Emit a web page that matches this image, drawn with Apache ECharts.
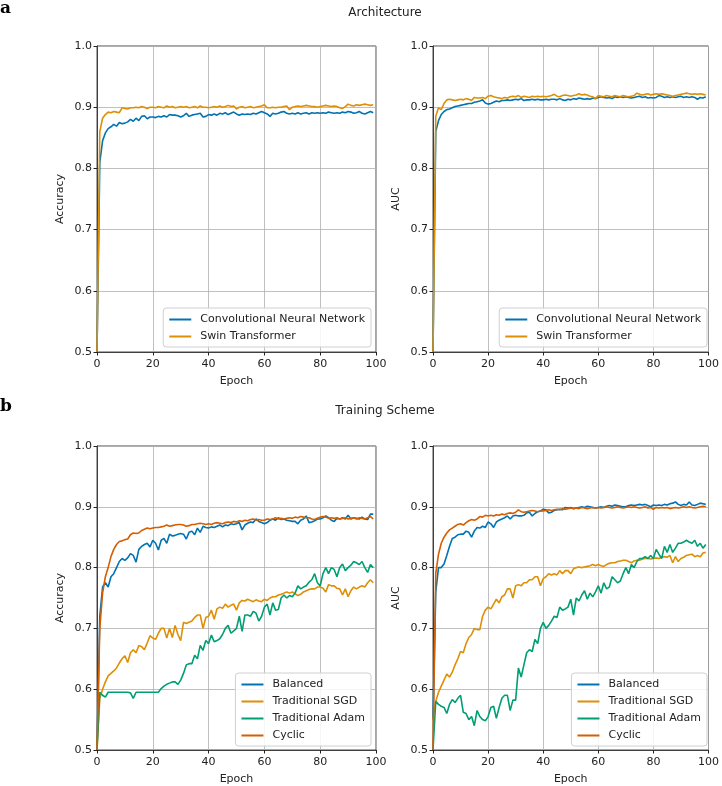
<!DOCTYPE html>
<html>
<head>
<meta charset="utf-8">
<title>Architecture / Training Scheme</title>
<script src="https://cdn.jsdelivr.net/npm/echarts@6/dist/echarts.min.js"></script>
<style>
  html, body { margin: 0; padding: 0; background: #fff; }
  #main { width: 722px; height: 786px; }
</style>
</head>
<body>
<div id="main"></div>
<script>
// values per epoch (0..99)
var cnnAcc = [
  0.50, 0.81, 0.845, 0.858, 0.865, 0.868, 0.872, 0.869, 0.875, 0.873,
  0.874, 0.876, 0.880, 0.877, 0.882, 0.878, 0.885, 0.886, 0.881, 0.884,
  0.884, 0.883, 0.885, 0.884, 0.886, 0.884, 0.888, 0.887, 0.887, 0.886,
  0.884, 0.886, 0.890, 0.885, 0.887, 0.888, 0.889, 0.890, 0.884, 0.885,
  0.888, 0.887, 0.889, 0.887, 0.890, 0.889, 0.891, 0.888, 0.890, 0.892,
  0.889, 0.887, 0.889, 0.888, 0.889, 0.888, 0.890, 0.889, 0.891, 0.893,
  0.891, 0.889, 0.885, 0.890, 0.889, 0.890, 0.892, 0.893, 0.890, 0.889,
  0.890, 0.889, 0.891, 0.889, 0.890, 0.891, 0.889, 0.891, 0.890, 0.891,
  0.890, 0.891, 0.890, 0.892, 0.891, 0.890, 0.891, 0.890, 0.892, 0.891,
  0.893, 0.892, 0.890, 0.891, 0.893, 0.890, 0.889, 0.891, 0.893, 0.891
];
var swinAcc = [
  0.50, 0.86, 0.882, 0.888, 0.892, 0.891, 0.893, 0.892, 0.891, 0.899,
  0.898, 0.897, 0.899, 0.899, 0.900, 0.899, 0.901, 0.900, 0.898, 0.900,
  0.900, 0.899, 0.901, 0.900, 0.899, 0.902, 0.900, 0.901, 0.899, 0.900,
  0.901, 0.900, 0.901, 0.899, 0.900, 0.901, 0.899, 0.902, 0.900, 0.900,
  0.899, 0.900, 0.901, 0.900, 0.902, 0.900, 0.901, 0.903, 0.901, 0.902,
  0.897, 0.900, 0.901, 0.899, 0.900, 0.901, 0.899, 0.900, 0.901, 0.902,
  0.904, 0.899, 0.899, 0.900, 0.899, 0.900, 0.900, 0.901, 0.902, 0.896,
  0.900, 0.901, 0.902, 0.901, 0.902, 0.903, 0.902, 0.901, 0.901, 0.900,
  0.901, 0.902, 0.903, 0.902, 0.901, 0.902, 0.901, 0.899, 0.898, 0.901,
  0.905, 0.903, 0.902, 0.904, 0.903, 0.904, 0.905, 0.904, 0.903, 0.904
];
var cnnAuc = [
  0.50, 0.86, 0.878, 0.888, 0.893, 0.896, 0.897, 0.899, 0.901, 0.902,
  0.903, 0.904, 0.905, 0.906, 0.906, 0.908, 0.909, 0.910, 0.912, 0.907,
  0.905, 0.906, 0.908, 0.910, 0.909, 0.911, 0.911, 0.912, 0.911, 0.912,
  0.913, 0.912, 0.914, 0.911, 0.912, 0.912, 0.913, 0.912, 0.913, 0.912,
  0.912, 0.913, 0.912, 0.913, 0.913, 0.912, 0.914, 0.912, 0.911, 0.913,
  0.912, 0.914, 0.913, 0.915, 0.914, 0.913, 0.914, 0.913, 0.915, 0.914,
  0.916, 0.917, 0.916, 0.915, 0.916, 0.914, 0.917, 0.916, 0.917, 0.916,
  0.917, 0.916, 0.915, 0.916, 0.917, 0.918, 0.916, 0.917, 0.915, 0.916,
  0.915, 0.916, 0.919, 0.918, 0.916, 0.917, 0.916, 0.917, 0.916, 0.917,
  0.918, 0.916, 0.917, 0.916, 0.917, 0.916, 0.913, 0.916, 0.915, 0.917
];
var swinAuc = [
  0.50, 0.885, 0.899, 0.896, 0.906, 0.912, 0.913, 0.912, 0.911, 0.912,
  0.913, 0.912, 0.914, 0.913, 0.911, 0.916, 0.915, 0.915, 0.916, 0.914,
  0.918, 0.919, 0.917, 0.916, 0.915, 0.914, 0.916, 0.915, 0.917, 0.918,
  0.917, 0.919, 0.916, 0.918, 0.917, 0.916, 0.918, 0.917, 0.918, 0.917,
  0.918, 0.917, 0.918, 0.919, 0.921, 0.918, 0.917, 0.919, 0.920, 0.919,
  0.918, 0.919, 0.920, 0.922, 0.920, 0.921, 0.920, 0.918, 0.917, 0.914,
  0.919, 0.918, 0.917, 0.919, 0.918, 0.917, 0.919, 0.918, 0.917, 0.919,
  0.918, 0.917, 0.918, 0.919, 0.923, 0.921, 0.920, 0.921, 0.922, 0.920,
  0.921, 0.922, 0.921, 0.922, 0.921, 0.920, 0.919, 0.918, 0.919, 0.920,
  0.921, 0.922, 0.923, 0.922, 0.921, 0.922, 0.921, 0.922, 0.921, 0.920
];

var balAcc = [
  0.50, 0.72, 0.768, 0.775, 0.768, 0.785, 0.790, 0.800, 0.810, 0.815,
  0.812, 0.816, 0.823, 0.820, 0.809, 0.830, 0.835, 0.838, 0.840, 0.834,
  0.845, 0.840, 0.829, 0.845, 0.848, 0.840, 0.855, 0.852, 0.853, 0.855,
  0.856, 0.855, 0.847, 0.858, 0.860, 0.854, 0.865, 0.858, 0.868, 0.866,
  0.865, 0.867, 0.866, 0.868, 0.870, 0.867, 0.870, 0.869, 0.872, 0.871,
  0.872, 0.874, 0.862, 0.870, 0.873, 0.875, 0.874, 0.880, 0.876, 0.874,
  0.872, 0.874, 0.878, 0.880, 0.878, 0.882, 0.879, 0.880, 0.878, 0.877,
  0.876, 0.876, 0.872, 0.878, 0.880, 0.885, 0.874, 0.875, 0.877, 0.880,
  0.880, 0.882, 0.885, 0.882, 0.878, 0.876, 0.881, 0.880, 0.882, 0.880,
  0.886, 0.880, 0.882, 0.881, 0.880, 0.883, 0.880, 0.879, 0.888, 0.888
];
var sgdAcc = [
  0.50, 0.585, 0.600, 0.612, 0.622, 0.626, 0.630, 0.635, 0.643, 0.650,
  0.655, 0.644, 0.660, 0.665, 0.660, 0.672, 0.670, 0.665, 0.676, 0.688,
  0.684, 0.682, 0.692, 0.700, 0.700, 0.684, 0.700, 0.685, 0.705, 0.690,
  0.680, 0.710, 0.708, 0.710, 0.712, 0.718, 0.722, 0.722, 0.700, 0.718,
  0.720, 0.730, 0.715, 0.732, 0.735, 0.733, 0.740, 0.735, 0.738, 0.740,
  0.730, 0.742, 0.746, 0.745, 0.748, 0.746, 0.744, 0.747, 0.745, 0.744,
  0.748, 0.746, 0.750, 0.752, 0.752, 0.755, 0.756, 0.758, 0.760, 0.758,
  0.760, 0.757, 0.754, 0.756, 0.760, 0.762, 0.764, 0.765, 0.765, 0.768,
  0.768, 0.766, 0.760, 0.772, 0.770, 0.770, 0.766, 0.765, 0.755, 0.765,
  0.752, 0.762, 0.768, 0.765, 0.768, 0.770, 0.768, 0.775, 0.780, 0.775
];
var adamAcc = [
  0.50, 0.595, 0.590, 0.587, 0.595, 0.595, 0.595, 0.595, 0.595, 0.595,
  0.595, 0.595, 0.594, 0.585, 0.595, 0.595, 0.595, 0.595, 0.595, 0.595,
  0.595, 0.595, 0.595, 0.601, 0.605, 0.608, 0.610, 0.612, 0.612, 0.608,
  0.615, 0.626, 0.640, 0.642, 0.642, 0.656, 0.650, 0.672, 0.664, 0.680,
  0.675, 0.689, 0.678, 0.680, 0.683, 0.690, 0.700, 0.705, 0.692, 0.696,
  0.700, 0.720, 0.695, 0.722, 0.722, 0.720, 0.728, 0.725, 0.712, 0.720,
  0.735, 0.740, 0.722, 0.742, 0.730, 0.731, 0.750, 0.755, 0.750, 0.754,
  0.752, 0.758, 0.770, 0.765, 0.768, 0.770, 0.776, 0.780, 0.790, 0.775,
  0.770, 0.790, 0.800, 0.790, 0.800, 0.797, 0.785, 0.800, 0.806, 0.795,
  0.800, 0.804, 0.810, 0.808, 0.805, 0.810, 0.800, 0.792, 0.805, 0.800
];
var cycAcc = [
  0.50, 0.70, 0.758, 0.785, 0.800, 0.818, 0.830, 0.838, 0.843, 0.844,
  0.846, 0.847, 0.854, 0.857, 0.856, 0.857, 0.861, 0.863, 0.865, 0.864,
  0.865, 0.866, 0.866, 0.867, 0.868, 0.870, 0.868, 0.869, 0.870, 0.871,
  0.871, 0.870, 0.868, 0.869, 0.871, 0.871, 0.872, 0.873, 0.872, 0.871,
  0.872, 0.871, 0.873, 0.874, 0.873, 0.872, 0.874, 0.875, 0.874, 0.876,
  0.875, 0.877, 0.876, 0.878, 0.877, 0.879, 0.880, 0.878, 0.879, 0.878,
  0.878, 0.880, 0.879, 0.880, 0.882, 0.880, 0.881, 0.880, 0.881, 0.882,
  0.881, 0.883, 0.882, 0.884, 0.883, 0.882, 0.882, 0.880, 0.879, 0.881,
  0.883, 0.884, 0.883, 0.881, 0.882, 0.881, 0.882, 0.880, 0.881, 0.882,
  0.880, 0.881, 0.882, 0.880, 0.882, 0.881, 0.880, 0.882, 0.884, 0.880
];

var balAuc = [
  0.55, 0.76, 0.800, 0.800, 0.806, 0.820, 0.835, 0.848, 0.850, 0.854,
  0.855, 0.855, 0.860, 0.858, 0.850, 0.860, 0.866, 0.865, 0.868, 0.866,
  0.875, 0.872, 0.866, 0.875, 0.878, 0.880, 0.882, 0.885, 0.880, 0.885,
  0.886, 0.885, 0.885, 0.886, 0.890, 0.891, 0.885, 0.889, 0.892, 0.893,
  0.896, 0.895, 0.890, 0.891, 0.894, 0.895, 0.896, 0.895, 0.899, 0.898,
  0.899, 0.897, 0.898, 0.899, 0.900, 0.899, 0.901, 0.900, 0.899, 0.898,
  0.899, 0.900, 0.899, 0.901, 0.902, 0.901, 0.903, 0.902, 0.901, 0.900,
  0.900, 0.902, 0.903, 0.902, 0.903, 0.904, 0.903, 0.904, 0.902, 0.900,
  0.903, 0.902, 0.903, 0.902, 0.904, 0.903, 0.905, 0.906, 0.908, 0.904,
  0.902, 0.904, 0.903, 0.908, 0.903, 0.902, 0.904, 0.906, 0.905, 0.904
];
var sgdAuc = [
  0.55, 0.580, 0.595, 0.605, 0.615, 0.625, 0.620, 0.628, 0.640, 0.650,
  0.662, 0.660, 0.675, 0.685, 0.690, 0.700, 0.698, 0.698, 0.720, 0.730,
  0.735, 0.732, 0.740, 0.748, 0.742, 0.752, 0.755, 0.765, 0.765, 0.750,
  0.770, 0.772, 0.770, 0.775, 0.775, 0.780, 0.780, 0.785, 0.785, 0.770,
  0.782, 0.785, 0.790, 0.788, 0.790, 0.788, 0.795, 0.790, 0.795, 0.795,
  0.790, 0.798, 0.800, 0.801, 0.800, 0.801, 0.802, 0.803, 0.805, 0.803,
  0.805, 0.803, 0.802, 0.805, 0.807, 0.808, 0.808, 0.810, 0.811, 0.812,
  0.812, 0.810, 0.808, 0.811, 0.812, 0.812, 0.814, 0.815, 0.815, 0.814,
  0.815, 0.816, 0.815, 0.817, 0.818, 0.817, 0.820, 0.808, 0.818, 0.810,
  0.815, 0.817, 0.820, 0.821, 0.822, 0.818, 0.820, 0.818, 0.824, 0.825
];
var adamAuc = [
  0.50, 0.580, 0.575, 0.572, 0.570, 0.560, 0.575, 0.583, 0.578, 0.585,
  0.590, 0.562, 0.560, 0.550, 0.555, 0.540, 0.565, 0.555, 0.550, 0.548,
  0.555, 0.570, 0.572, 0.552, 0.570, 0.585, 0.590, 0.590, 0.565, 0.582,
  0.582, 0.635, 0.620, 0.640, 0.660, 0.665, 0.662, 0.682, 0.675, 0.700,
  0.710, 0.700, 0.705, 0.712, 0.720, 0.718, 0.735, 0.730, 0.732, 0.735,
  0.748, 0.722, 0.750, 0.745, 0.755, 0.762, 0.748, 0.758, 0.752, 0.760,
  0.770, 0.758, 0.775, 0.765, 0.768, 0.785, 0.780, 0.775, 0.778, 0.790,
  0.800, 0.790, 0.805, 0.800, 0.810, 0.815, 0.815, 0.818, 0.815, 0.820,
  0.815, 0.830, 0.822, 0.815, 0.835, 0.825, 0.838, 0.825, 0.832, 0.840,
  0.840, 0.842, 0.845, 0.842, 0.840, 0.845, 0.835, 0.840, 0.832, 0.838
];
var cycAuc = [
  0.50, 0.79, 0.822, 0.840, 0.850, 0.857, 0.862, 0.865, 0.868, 0.871,
  0.872, 0.870, 0.874, 0.877, 0.879, 0.878, 0.880, 0.884, 0.883, 0.886,
  0.885, 0.886, 0.885, 0.887, 0.886, 0.888, 0.887, 0.889, 0.890, 0.889,
  0.891, 0.895, 0.892, 0.891, 0.892, 0.893, 0.894, 0.893, 0.892, 0.893,
  0.893, 0.894, 0.895, 0.894, 0.895, 0.896, 0.895, 0.897, 0.896, 0.897,
  0.898, 0.897, 0.898, 0.897, 0.899, 0.898, 0.897, 0.898, 0.899, 0.898,
  0.899, 0.898, 0.899, 0.900, 0.899, 0.898, 0.899, 0.900, 0.899, 0.898,
  0.899, 0.900, 0.899, 0.900, 0.899, 0.898, 0.899, 0.900, 0.898, 0.899,
  0.896, 0.899, 0.898, 0.899, 0.898, 0.899, 0.897, 0.898, 0.899, 0.898,
  0.899, 0.900, 0.899, 0.900, 0.899, 0.898, 0.899, 0.900, 0.901, 0.900
];

var archNames = ['Convolutional Neural Network', 'Swin Transformer'];
var schemeNames = ['Balanced', 'Traditional SGD', 'Traditional Adam', 'Cyclic'];

var BLUE = '#0173b2', ORANGE = '#de8f05', GREEN = '#029e73', RED = '#d55e00';
var FONT = 'DejaVu Sans';

function pairs(arr) {
  return arr.map(function (v, i) { return [i, v]; });
}

function line(name, arr, color, idx) {
  return {
    name: name, type: 'line', data: pairs(arr),
    xAxisIndex: idx, yAxisIndex: idx,
    showSymbol: false, symbol: 'none',
    lineStyle: { color: color, width: 1.6 },
    itemStyle: { color: color },
    animation: false
  };
}

var grids = [
  { left: 97, width: 279, top: 46, height: 306 },
  { left: 433, width: 279, top: 46, height: 306 },
  { left: 97, width: 279, top: 446, height: 306 },
  { left: 433, width: 279, top: 446, height: 306 }
].map(function (g) {
  g.show = true; g.borderColor = '#222'; g.borderWidth = 0.8;
  return g;
});

var gridLine = { show: true, lineStyle: { color: '#b0b0b0', width: 0.8 } };

var xAxes = grids.map(function (g, i) {
  return {
    type: 'value', gridIndex: i, min: 0, max: 100, interval: 20,
    name: 'Epoch', nameLocation: 'middle', nameGap: 24,
    nameTextStyle: { color: '#222', fontFamily: FONT, fontSize: 11 },
    axisLine: { show: true, lineStyle: { color: '#222', width: 0.8 } },
    axisTick: { show: true, length: 3.5, lineStyle: { color: '#222' } },
    axisLabel: { color: '#222', fontFamily: FONT, fontSize: 11, margin: 7 },
    splitLine: gridLine
  };
});
var yAxes = grids.map(function (g, i) {
  return {
    type: 'value', gridIndex: i, min: 0.5, max: 1.0, interval: 0.1,
    name: (i % 2 === 0) ? 'Accuracy' : 'AUC', nameLocation: 'middle', nameGap: 31,
    nameTextStyle: { color: '#222', fontFamily: FONT, fontSize: 11 },
    axisLine: { show: true, lineStyle: { color: '#222', width: 0.8 } },
    axisTick: { show: true, length: 3.5, lineStyle: { color: '#222' } },
    axisLabel: {
      color: '#222', fontFamily: FONT, fontSize: 11, margin: 5,
      formatter: function (v) { return v.toFixed(1); }
    },
    splitLine: gridLine
  };
});

function legend(names, right, bottom) {
  return {
    data: names, orient: 'vertical', right: right, bottom: bottom,
    icon: 'rect', itemWidth: 22, itemHeight: 2, itemGap: 6,
    padding: [6, 6, 5, 6],
    backgroundColor: 'rgba(255,255,255,0.85)',
    borderColor: '#d0d0d0', borderWidth: 1, borderRadius: 3,
    textStyle: { color: '#222', fontFamily: FONT, fontSize: 11, padding: [0, 0, 0, 4] },
    selectedMode: false
  };
}

var series = [
  line(archNames[0], cnnAcc, BLUE, 0), line(archNames[1], swinAcc, ORANGE, 0),
  line(archNames[0], cnnAuc, BLUE, 1), line(archNames[1], swinAuc, ORANGE, 1),
  line(schemeNames[0], balAcc, BLUE, 2), line(schemeNames[1], sgdAcc, ORANGE, 2),
  line(schemeNames[2], adamAcc, GREEN, 2), line(schemeNames[3], cycAcc, RED, 2),
  line(schemeNames[0], balAuc, BLUE, 3), line(schemeNames[1], sgdAuc, ORANGE, 3),
  line(schemeNames[2], adamAuc, GREEN, 3), line(schemeNames[3], cycAuc, RED, 3)
];

var chart = echarts.init(document.getElementById('main'), null, { renderer: 'canvas' });
chart.setOption({
  backgroundColor: '#fff',
  animation: false,
  grid: grids,
  xAxis: xAxes,
  yAxis: yAxes,
  legend: [
    legend(archNames, 351, 439),
    legend(archNames, 15, 439),
    legend(schemeNames, 351, 40),
    legend(schemeNames, 15, 40)
  ],
  graphic: [
    { type: 'text', left: 0, top: 0, style: { text: 'a', font: 'bold 17px "DejaVu Serif"', fill: '#000' } },
    { type: 'text', left: 0, top: 398, style: { text: 'b', font: 'bold 17px "DejaVu Serif"', fill: '#000' } },
    { type: 'text', x: 385, y: 13, style: { text: 'Architecture', font: '12px "DejaVu Sans"', fill: '#222', align: 'center', verticalAlign: 'middle' } },
    { type: 'text', x: 385, y: 411, style: { text: 'Training Scheme', font: '12px "DejaVu Sans"', fill: '#222', align: 'center', verticalAlign: 'middle' } }
  ],
  series: series
});
</script>
</body>
</html>
